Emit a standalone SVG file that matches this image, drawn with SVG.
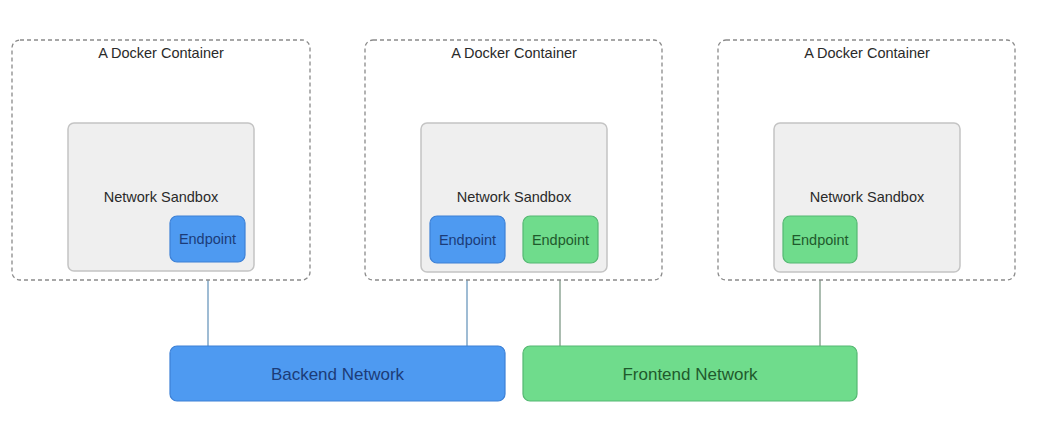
<svg xmlns="http://www.w3.org/2000/svg" width="1040" height="442" viewBox="0 0 1040 442">
<style>
text{font-family:"Liberation Sans",Arial,sans-serif;text-anchor:middle;dominant-baseline:central}
.container{fill:#fff;stroke:#8a8a8a;stroke-width:1.3;stroke-dasharray:4 3}
.sandbox{fill:#efefef;stroke:#c4c4c4;stroke-width:1.5}
.blue{fill:#4e9af1;stroke:#3c80d6;stroke-width:1.2}
.green{fill:#6fdc8c;stroke:#55b872;stroke-width:1.2}
.lbl{font-size:14.5px;fill:#2a2a2a}
.sb{font-size:14.5px;fill:#2a2a2a}
.bt{fill:#1c3c78}
.gt{fill:#1f5a2c}
.ep{font-size:14.5px}
.net{font-size:17px}
.link-b{stroke:#7fa6c6;stroke-width:1.5;fill:none}
.link-g{stroke:#8fa696;stroke-width:1.5;fill:none}
</style>
<rect width="1040" height="442" fill="#fff"/>
<g id="connectors">
<line class="link-b" x1="208" y1="262" x2="208" y2="346"/>
<line class="link-b" x1="467" y1="263" x2="467" y2="346"/>
<line class="link-g" x1="560" y1="263" x2="560" y2="346"/>
<line class="link-g" x1="820" y1="263" x2="820" y2="346"/>
</g>
<g id="container1">
<rect class="container" x="12" y="40" width="298" height="240" rx="8"/>
<text class="lbl" x="161" y="53">A Docker Container</text>
</g>
<g id="sandbox1">
<rect class="sandbox" x="68" y="123" width="186" height="148" rx="6"/>
<text class="sb" x="161" y="197">Network Sandbox</text>
</g>
<g id="endpoint1">
<rect class="blue" x="170" y="216" width="75" height="46" rx="7"/>
<text class="ep bt" x="207.5" y="239">Endpoint</text>
</g>
<g id="container2">
<rect class="container" x="365" y="40" width="297" height="240" rx="8"/>
<text class="lbl" x="514" y="53">A Docker Container</text>
</g>
<g id="sandbox2">
<rect class="sandbox" x="421" y="123" width="186" height="149" rx="6"/>
<text class="sb" x="514" y="197">Network Sandbox</text>
</g>
<g id="endpoint2a">
<rect class="blue" x="430" y="216" width="75" height="47" rx="7"/>
<text class="ep bt" x="467.5" y="239.5">Endpoint</text>
</g>
<g id="endpoint2b">
<rect class="green" x="523" y="216" width="75" height="47" rx="7"/>
<text class="ep gt" x="560.5" y="239.5">Endpoint</text>
</g>
<g id="container3">
<rect class="container" x="718" y="40" width="297" height="240" rx="8"/>
<text class="lbl" x="867" y="53">A Docker Container</text>
</g>
<g id="sandbox3">
<rect class="sandbox" x="774" y="123" width="186" height="149" rx="6"/>
<text class="sb" x="867" y="197">Network Sandbox</text>
</g>
<g id="endpoint3">
<rect class="green" x="783" y="216" width="74" height="47" rx="7"/>
<text class="ep gt" x="820" y="239.5">Endpoint</text>
</g>
<g id="backend">
<rect class="blue" x="170" y="346" width="335" height="55" rx="7"/>
<text class="net bt" x="337.5" y="374">Backend Network</text>
</g>
<g id="frontend">
<rect class="green" x="523" y="346" width="334" height="55" rx="7"/>
<text class="net gt" x="690" y="374">Frontend Network</text>
</g>
</svg>
